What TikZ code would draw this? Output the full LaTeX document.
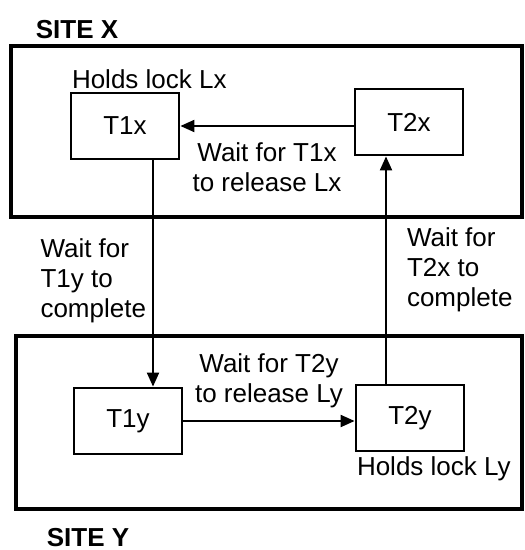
\documentclass[tikz,border=0pt]{standalone}
\usepackage{fontspec}
\setmainfont{Liberation Sans}
\usetikzlibrary{arrows.meta,positioning}
\tikzset{
  txblk/.style={draw,rectangle,minimum width=54pt,minimum height=33pt,line width=1.4pt,align=center},
  sitebox/.style={draw,line width=1.6pt},
  arr/.style={-{Triangle[length=7pt,width=6pt]},line width=1pt},
  lbl/.style={align=left,inner sep=1pt},
  sitelbl/.style={font=\fontsize{13}{15}\selectfont\bfseries}
}
\begin{document}
\begin{tikzpicture}[x=0.5pt,y=-0.5pt,font=\fontsize{13}{15}\selectfont]
  \useasboundingbox (0,0) rectangle (524,550);
  % the two sites
  \draw[sitebox] (11,46) rectangle (522,217);
  \draw[sitebox] (16,336) rectangle (522,509);
  \node[sitelbl] (sitex) at (77,30) {SITE X};
  \node[sitelbl] (sitey) at (88,538) {SITE Y};

  % transactions
  \node[txblk] (t1x) at (125,126) {T1x};
  \node[txblk] (t2x) at (409,122) {T2x};
  \node[txblk] (t1y) at (128,421) {T1y};
  \node[txblk] (t2y) at (410,418) {T2y};
  \node[lbl,anchor=south west] (lockx) at (t1x.north west) {Holds lock Lx};
  \node[lbl,anchor=north west] (locky) at ([yshift=-1pt]t2y.south west) {Holds lock Ly};

  % waits-for edges
  \draw[arr] (t2x.west |- t1x) -- node[lbl,below=7pt,align=center]{Wait for T1x\\to release Lx} (t1x);
  \draw[arr] (t1y) -- node[lbl,above=5pt,align=center]{Wait for T2y\\to release Ly} (t2y.west |- t1y);
  \draw[arr] ([xshift=14pt]t1x.south) -- node[lbl,left=2pt,pos=0.53]{Wait for\\T1y to\\complete} ([xshift=14pt]t1x.south |- t1y.north);
  \draw[arr] ([xshift=-12pt]t2y.north) -- node[lbl,right=9pt]{Wait for\\T2x to\\complete} ([xshift=-12pt]t2y.north |- t2x.south);
\end{tikzpicture}
\end{document}
